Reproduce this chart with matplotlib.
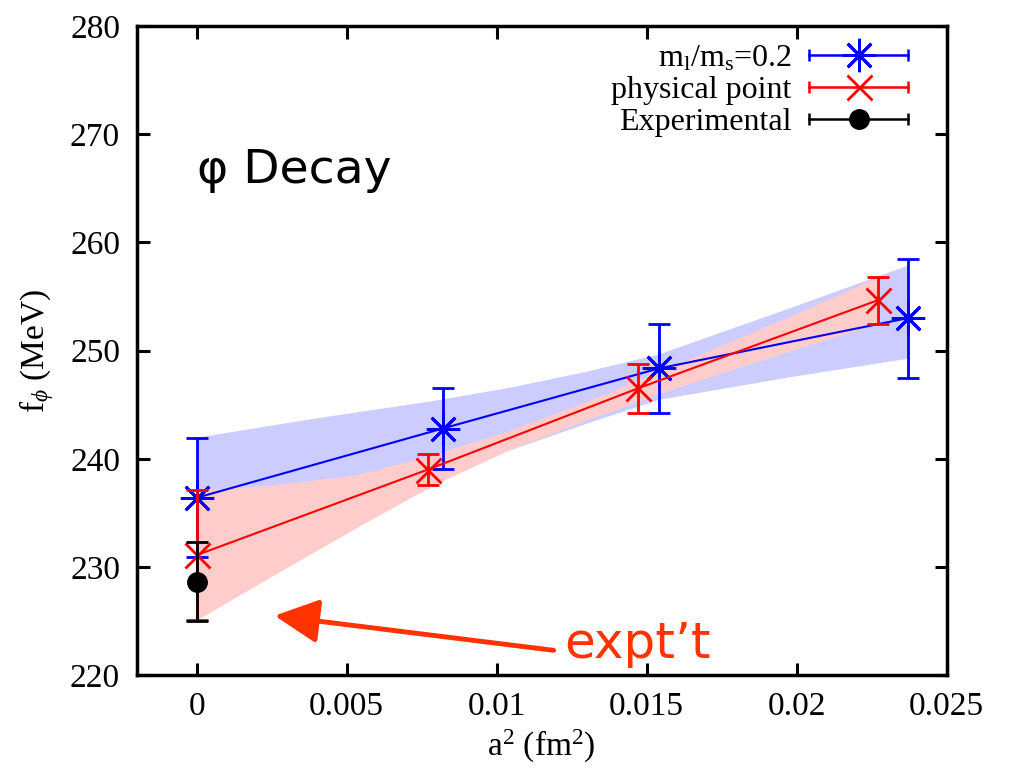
import matplotlib
matplotlib.use("Agg")
import matplotlib.pyplot as plt
from matplotlib.lines import Line2D
from matplotlib.legend_handler import HandlerBase

# data
blue_x = [0.0, 0.0082, 0.0154, 0.0237]
blue_y = [236.4, 242.8, 248.35, 253.0]
blue_err = [5.5, 3.7, 4.1, 5.5]

red_x = [0.0, 0.0077, 0.0147, 0.0227]
red_y = [231.1, 239.0, 246.5, 254.65]
red_err = [6.0, 1.4, 2.25, 2.2]

exp_x = [0.0]
exp_y = [228.65]
exp_err = [3.65]

# fit bands (edges read at a few a^2 values)
blue_band_x = [0.0, 0.0039, 0.0079, 0.0104, 0.013, 0.0154, 0.0198, 0.0237]
blue_band_lo = [230.8, 234.5, 238.4, 240.8, 243.3, 245.5, 247.6, 249.3]
blue_band_hi = [242.0, 243.75, 245.4, 246.6, 248.1, 249.7, 254.0, 257.9]

red_band_x = [0.0, 0.0026, 0.0053, 0.0079, 0.0104, 0.013, 0.0158, 0.0198, 0.0227]
red_band_lo = [225.1, 229.3, 233.6, 237.6, 240.8, 243.6, 246.4, 250.0, 252.5]
red_band_hi = [237.1, 237.6, 238.5, 240.4, 242.6, 245.3, 248.5, 253.2, 256.8]

x_ticks = [0.0, 0.005, 0.01, 0.015, 0.02, 0.025]
x_tick_labels = ["0", "0.005", "0.01", "0.015", "0.02", "0.025"]
y_ticks = [220, 230, 240, 250, 260, 270, 280]

labels = ["m$_\\mathrm{l}$/m$_\\mathrm{s}$=0.2", "physical point", "Experimental"]

plt.rcParams["font.family"] = "serif"
plt.rcParams["font.serif"] = ["Liberation Serif"]
plt.rcParams["mathtext.fontset"] = "custom"
plt.rcParams["mathtext.rm"] = "Liberation Serif"
plt.rcParams["mathtext.it"] = "Liberation Serif:italic"

BLUE = "#0000ff"
RED = "#ff0000"
ARROW = "#ff3300"
STAR = (8, 2, 0)


class CapHandler(HandlerBase):
    # gnuplot-like key sample: horizontal bar with end caps and marker in the middle
    def create_artists(self, legend, orig_handle, xdescent, ydescent, width,
                       height, fontsize, trans):
        c = orig_handle.get_color()
        y = height / 2 - ydescent
        x0, x1 = -xdescent, width - xdescent
        bar = Line2D([x0, x1], [y, y], color=c, lw=1.8)
        caps = Line2D([x0, x1], [y, y], color=c, ls="none", marker="|",
                      ms=8, mew=1.8)
        mk = Line2D([(x0 + x1) / 2], [y], color=c, ls="none",
                    marker=orig_handle.get_marker(),
                    ms=orig_handle.get_markersize(),
                    mew=orig_handle.get_markeredgewidth(),
                    mfc=orig_handle.get_markerfacecolor())
        for a in (bar, caps, mk):
            a.set_transform(trans)
        return [bar, caps, mk]


fig = plt.figure(figsize=(10.2, 7.77), dpi=100)
ax = fig.add_axes([0.134, 0.131, 0.794, 0.8355])

ax.fill_between(blue_band_x, blue_band_lo, blue_band_hi, color="#ccccff", lw=0, zorder=1)
ax.fill_between(red_band_x, red_band_lo, red_band_hi, color="#ffcccc", lw=0, zorder=2)

ax.errorbar(blue_x, blue_y, yerr=blue_err, color=BLUE, lw=1.5, elinewidth=2,
            capsize=8, capthick=2, marker=STAR, ms=24, mew=2, zorder=3)
ax.errorbar(red_x, red_y, yerr=red_err, color=RED, lw=1.5, elinewidth=2,
            capsize=8, capthick=2, marker="x", ms=18, mew=2, zorder=4)
ax.errorbar(exp_x, exp_y, yerr=exp_err, color="black", ls="none", elinewidth=2,
            capsize=8, capthick=2, marker="o", ms=14, zorder=5)

handles = [
    Line2D([], [], color=BLUE, marker=STAR, ms=24, mew=2),
    Line2D([], [], color=RED, marker="x", ms=18, mew=2),
    Line2D([], [], color="black", marker="o", ms=14, mew=1.0, mfc="black"),
]
leg = ax.legend(handles, labels, loc="upper right", bbox_to_anchor=(0.988, 1.017),
                frameon=False, markerfirst=False, handlelength=3.1,
                handletextpad=0.55, labelspacing=0.08, fontsize=23,
                handler_map={Line2D: CapHandler()})
for t in leg.get_texts():
    t.set_ha("right")

ax.text(0.0, 265.5, "φ Decay", family="DejaVu Sans", fontsize=34, va="baseline")

ax.annotate("", xy=(0.0026, 225.5), xytext=(0.0119, 222.3),
            arrowprops=dict(arrowstyle="-|>,head_length=0.9,head_width=0.45",
                            color=ARROW, lw=3.5, mutation_scale=30,
                            shrinkA=0, shrinkB=0))
ax.text(0.01227, 221.6, "expt’t", family="DejaVu Sans", fontsize=36,
        color=ARROW, va="baseline")

ax.set_xlim(-0.002, 0.025)
ax.set_ylim(220, 280)
ax.set_xticks(x_ticks)
ax.set_xticklabels(x_tick_labels)
ax.set_yticks(y_ticks)
ax.tick_params(direction="in", length=9, width=2.2, top=True, right=True,
               labelsize=24, pad=12)
for s in ax.spines.values():
    s.set_linewidth(2.5)

ax.set_xlabel("a$^2$ (fm$^2$)", fontsize=24, labelpad=4)
ax.set_ylabel("f$_\\phi$ (MeV)", fontsize=24, labelpad=10)

fig.savefig("out.png", dpi=100)
